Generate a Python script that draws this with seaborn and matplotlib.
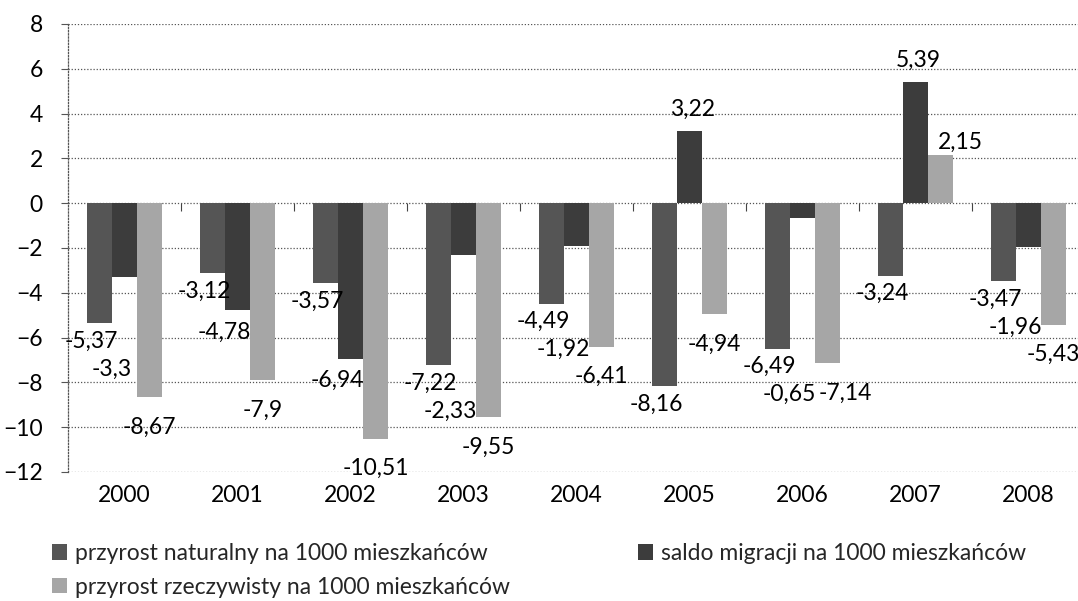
import matplotlib
matplotlib.use("Agg")
import matplotlib.pyplot as plt
import numpy as np
import pandas as pd
import seaborn as sns
from matplotlib.patches import Patch

# ---- data ----
years = ["2000", "2001", "2002", "2003", "2004", "2005", "2006", "2007", "2008"]
naturalny = [-5.37, -3.12, -3.57, -7.22, -4.49, -8.16, -6.49, -3.24, -3.47]
migracja = [-3.3, -4.78, -6.94, -2.33, -1.92, 3.22, -0.65, 5.39, -1.96]
rzeczywisty = [-8.67, -7.9, -10.51, -9.55, -6.41, -4.94, -7.14, 2.15, -5.43]
series_names = [
    "przyrost naturalny na 1000 mieszkańców",
    "saldo migracji na 1000 mieszkańców",
    "przyrost rzeczywisty na 1000 mieszkańców",
]
y_ticks = [-12, -10, -8, -6, -4, -2, 0, 2, 4, 6, 8]

colors = ["#555555", "#3c3c3c", "#a6a6a6"]
FS = 16.5

sns.set_theme(style="white")
plt.rcParams["font.family"] = ["Lato", "DejaVu Sans"]

values = [naturalny, migracja, rzeczywisty]
df = pd.DataFrame({
    "rok": years * 3,
    "wartosc": naturalny + migracja + rzeczywisty,
    "seria": sum([[s] * len(years) for s in series_names], []),
})

W, H = 1078, 601
fig = plt.figure(figsize=(W / 100, H / 100), dpi=100)
ax = fig.add_axes([68 / W, 1 - 472 / H, 1017 / W, 448 / H])

sns.barplot(data=df, x="rok", y="wartosc", hue="seria", order=years,
            hue_order=series_names, palette=colors, width=0.664,
            saturation=1, errorbar=None, legend=False, ax=ax,
            edgecolor="none", linewidth=0)

ax.set_xlim(-0.5, len(years) - 0.5)
ax.set_ylim(min(y_ticks), max(y_ticks))
ax.set_yticks(y_ticks)
ax.set_xlabel("")
ax.set_ylabel("")

dot = (0, (1, 1.5))
ax.yaxis.grid(True, linestyle=dot, color="#555555", linewidth=0.9)
ax.xaxis.grid(False)
ax.set_axisbelow(True)
for s in ["right", "bottom"]:
    ax.spines[s].set_visible(False)
ax.spines["left"].set_linestyle(dot)
ax.spines["left"].set_color("#555555")
ax.spines["left"].set_linewidth(0.9)
ax.spines["top"].set_position(("data", 0))
ax.spines["top"].set_visible(False)

ax.tick_params(axis="y", left=True, length=5, width=0.8, color="#555555",
               pad=13, labelsize=FS, labelcolor="black")
ax.tick_params(axis="x", which="major", bottom=True, top=False, length=0,
               pad=9, labelsize=FS, labelcolor="black")
ax.set_xticks(np.arange(len(years) - 1) + 0.5, minor=True)
ax.tick_params(axis="x", which="minor", bottom=False, top=True,
               direction="in", length=6, width=0.8, color="#444444")

# ---- data labels ----
def fmt(v):
    return f"{v:g}".replace(".", ",")

def to_px(y):
    return ax.transData.transform((0, y))[1]

mig_label_px = {}
for si, cont in enumerate(ax.containers):
    for i, patch in enumerate(cont.patches):
        xc = patch.get_x() + patch.get_width() / 2
        v = values[si][i]
        anchor = v
        if si == 0:
            dx, dy = (-8, 16) if v >= 0 else (-8, -18)
        elif si == 1:
            if v >= 0:
                dx, dy = 3, 22
            elif v <= naturalny[i]:
                dx, dy = -13, -22
            else:
                anchor = naturalny[i]
                dx, dy = -13, -46
            mig_label_px[i] = to_px(anchor) + dy
        else:
            if v >= 0:
                dx, dy = 20, 13
            else:
                dx, dy = 0, -30
                # keep clear of the neighbouring migration label
                if abs(to_px(v) + dy - mig_label_px.get(i, -1e9)) < 18:
                    dx = 18
        ax.annotate(fmt(v), (xc, anchor), xytext=(dx, dy),
                    textcoords="offset pixels", ha="center", va="center",
                    fontsize=FS, color="black", annotation_clip=False)

# ---- legend ----
handles = [Patch(facecolor=c, edgecolor="none") for c in colors]
order = [0, 2, 1]
fig.legend([handles[k] for k in order], [series_names[k] for k in order],
           ncol=2, loc="upper left", bbox_to_anchor=(52 / W, 1 - 543 / H),
           bbox_transform=fig.transFigure, frameon=False, fontsize=FS,
           handlelength=0.65, handleheight=0.65, handletextpad=0.35,
           columnspacing=5.6, labelspacing=0.55, borderpad=0, borderaxespad=0)

fig.savefig("out.png", dpi=100)
